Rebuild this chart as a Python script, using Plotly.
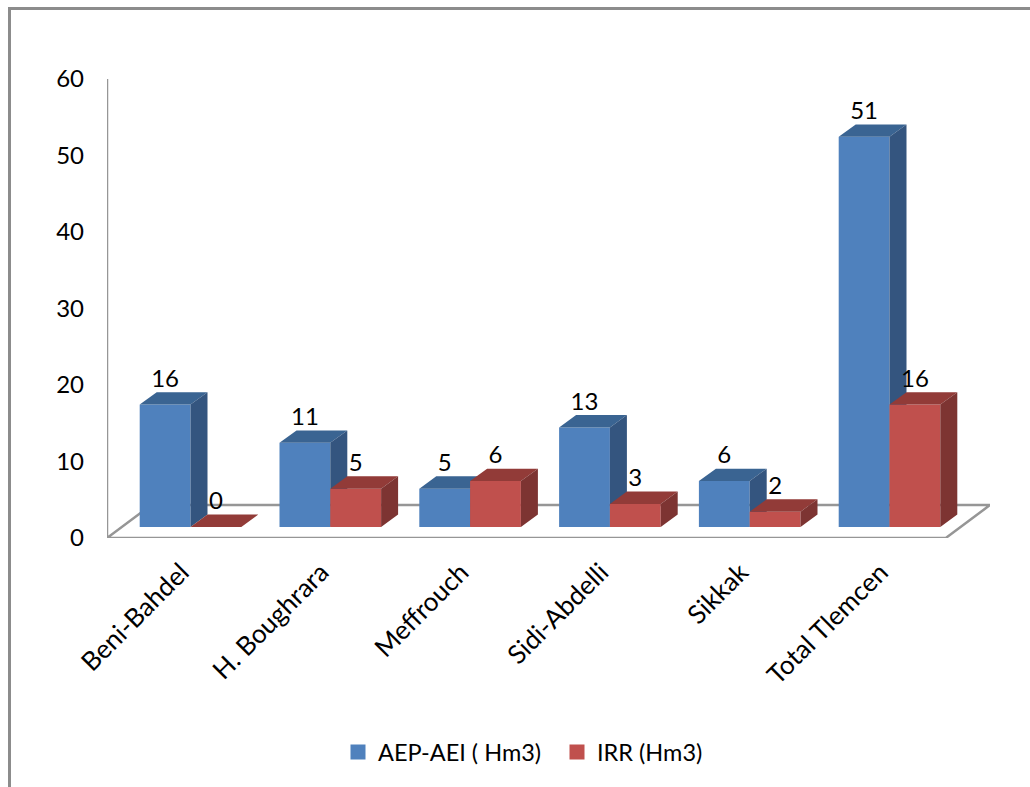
import numpy as np
import plotly.graph_objects as go

# Chart data
categories = ["Beni-Bahdel", "H. Boughrara", "Meffrouch", "Sidi-Abdelli", "Sikkak", "Total Tlemcen"]
aep_aei = [16, 11, 5, 13, 6, 51]
irr = [0, 5, 6, 3, 2, 16]
y_ticks = [0, 10, 20, 30, 40, 50, 60]

# Colours: front, top and side face of each series
BLUE = ("#4F81BD", "#3A6492", "#34557F")
RED = ("#C0504D", "#923B38", "#7D3432")
GREY = "#969696"
FONT = "Lato"
FONT_SIZE = 24

# Plot box in page pixels and the size of one category / one value unit
W, H = 1030, 787
LEFT, RIGHT, TOP, BOTTOM = 107, 990, 79, 538.5
CAT_PX = 139.8
UNIT_PX = (BOTTOM - TOP) / 60

def dx(px):
    return px / CAT_PX

def dy(px):
    return px / UNIT_PX

x_lo = -0.5
x_hi = x_lo + dx(RIGHT - LEFT)
floor_right = x_lo + len(categories)

# Pseudo-3D projection offsets
BAR_W = dx(50.8)
DEPTH_X, DEPTH_Y = dx(17), dy(12.5)
BASE = dy(11)
SHIFT = dx(13.6)
positions = np.arange(len(categories)) + SHIFT
label_ticks = positions - dx(9)


def face_polys(left, values):
    """Top and side faces of a row of bars, as gap-separated polygons."""
    top_x, top_y, side_x, side_y = [], [], [], []
    for x0, v in zip(left, values):
        x1 = x0 + BAR_W
        y1 = BASE + v
        top_x += [x0, x0 + DEPTH_X, x1 + DEPTH_X, x1, x0, None]
        top_y += [y1, y1 + DEPTH_Y, y1 + DEPTH_Y, y1, y1, None]
        side_x += [x1, x1 + DEPTH_X, x1 + DEPTH_X, x1, x1, None]
        side_y += [BASE, BASE + DEPTH_Y, y1 + DEPTH_Y, y1, BASE, None]
    return top_x, top_y, side_x, side_y


def polygon(xs, ys, colour, xa, ya):
    return go.Scatter(x=xs, y=ys, mode="lines", fill="toself", fillcolor=colour,
                      line=dict(width=0, color=colour), hoverinfo="skip",
                      showlegend=False, xaxis=xa, yaxis=ya)


fig = go.Figure()

# Value axis and floor outline sit on the bottom layer
floor_y = dy(33)
fig.add_trace(go.Scatter(
    x=[x_lo, x_lo, floor_right, x_hi, x_lo + (x_hi - floor_right), x_lo],
    y=[60, 0, 0, floor_y, floor_y, 0],
    mode="lines", line=dict(color=GREY, width=2.5), hoverinfo="skip", showlegend=False,
    cliponaxis=False,
))

# Each series has its own overlaid axes so red faces cover the blue sides
series = [
    ("AEP-AEI ( Hm3)", aep_aei, BLUE, positions - BAR_W, "x2", "y2"),
    ("IRR (Hm3)", irr, RED, positions, "x3", "y3"),
]
for name, values, (front, top, side), left, xa, ya in series:
    fig.add_trace(go.Bar(
        x=left, y=values, base=BASE, width=BAR_W, offset=0, name=name, showlegend=False,
        marker=dict(color=front, line=dict(width=0)), xaxis=xa, yaxis=ya,
    ))
    tx, ty, sx, sy = face_polys(left, values)
    fig.add_trace(polygon(tx, ty, top, xa, ya))
    fig.add_trace(polygon(sx, sy, side, xa, ya))
    # Square legend key for the series
    fig.add_trace(go.Scatter(
        x=[None], y=[None], mode="markers", name=name,
        marker=dict(symbol="square", size=15, color=front), xaxis=xa, yaxis=ya,
    ))

# Value labels above the back edge of each bar
label_x, label_y, label_t = [], [], []
for _, values, _, left, _, _ in series:
    for x0, v in zip(left, values):
        label_x.append(x0 + BAR_W / 2)
        label_y.append(BASE + v + DEPTH_Y + dy(11.5))
        label_t.append(str(v))
fig.add_trace(go.Scatter(
    x=label_x, y=label_y, text=label_t, mode="text", textposition="middle center",
    textfont=dict(family=FONT, size=FONT_SIZE, color="#000000"),
    hoverinfo="skip", showlegend=False, xaxis="x3", yaxis="y3", cliponaxis=False,
))

plot_w, plot_h = RIGHT - LEFT, BOTTOM - TOP

def page_x(px):
    return (px - LEFT) / plot_w

def page_y(px):
    return (BOTTOM - px) / plot_h

hidden_x = dict(range=[x_lo, x_hi], overlaying="x", visible=False)
hidden_y = dict(range=[0, 60], overlaying="y", visible=False)

fig.update_layout(
    width=W, height=H,
    margin=dict(l=LEFT, r=W - RIGHT, t=TOP, b=H - BOTTOM, pad=0),
    paper_bgcolor="white", plot_bgcolor="rgba(0,0,0,0)",
    font=dict(family=FONT, size=FONT_SIZE, color="#000000"),
    xaxis=dict(range=[x_lo, x_hi], tickmode="array", tickvals=label_ticks.tolist(),
               ticktext=categories, tickangle=-45, showgrid=False, zeroline=False,
               showline=False, ticks="", ticklabelstandoff=13,
               tickfont=dict(family=FONT, size=26)),
    yaxis=dict(range=[0, 60], tickmode="array", tickvals=y_ticks, showgrid=False,
               zeroline=False, showline=False, ticks="",
               ticklabelstandoff=22, tickfont=dict(family=FONT, size=FONT_SIZE)),
    xaxis2=hidden_x, yaxis2=hidden_y, xaxis3=hidden_x, yaxis3=hidden_y,
    showlegend=True,
    legend=dict(orientation="h", x=page_x(338), y=page_y(731), xanchor="left", yanchor="top",
                traceorder="normal", font=dict(family=FONT, size=23.5),
                bgcolor="rgba(0,0,0,0)", entrywidthmode="pixels", entrywidth=174),
    shapes=[dict(type="rect", xref="paper", yref="paper",
                 x0=page_x(9.5), x1=page_x(W + 20), y0=page_y(8.5), y1=page_y(H + 20),
                 line=dict(color="#8C8C8C", width=3), fillcolor="rgba(0,0,0,0)", layer="below")],
)

fig.write_html("out.html")
